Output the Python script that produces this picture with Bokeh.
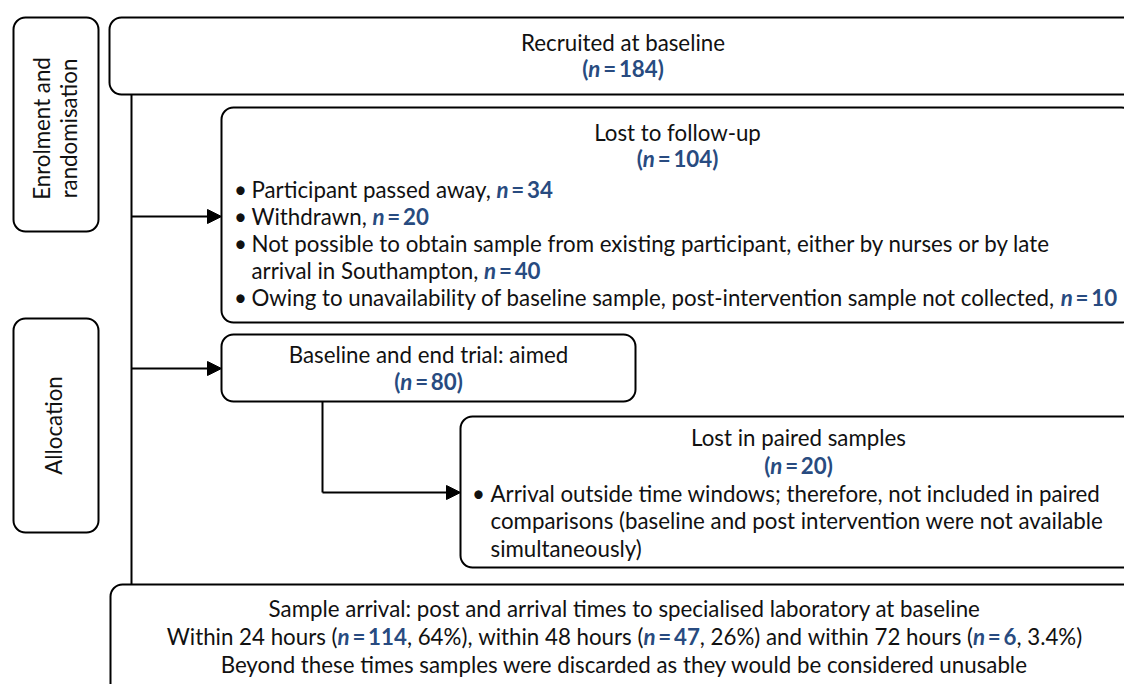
import json
import math
from bokeh.plotting import figure
from bokeh.models import ColumnDataSource, Range1d, Arrow, NormalHead, CustomJSTransform
from bokeh.transform import transform
from bokeh.embed import file_html
from bokeh.resources import INLINE
from bokeh.core.properties import value

# ---------------- data (texts and counts) ----------------
enrol_label = ["Enrolment and", "randomisation"]
alloc_label = "Allocation"

recruited_title = "Recruited at baseline"
recruited_n = 184

lost_title = "Lost to follow-up"
lost_n = 104
lost_reasons = [
    ["Participant passed away, "],
    ["Withdrawn, "],
    ["Not possible to obtain sample from existing participant, either by nurses or by late",
     "arrival in Southampton, "],
    ["Owing to unavailability of baseline sample, post-intervention sample not collected, "],
]
lost_reason_n = [34, 20, 40, 10]

aimed_title = "Baseline and end trial: aimed"
aimed_n = 80

paired_title = "Lost in paired samples"
paired_n = 20
paired_reason = [
    "Arrival outside time windows; therefore, not included in paired",
    "comparisons (baseline and post intervention were not available",
    "simultaneously)",
]

arrival_title = "Sample arrival: post and arrival times to specialised laboratory at baseline"
arrival_windows = ["Within 24 hours", "within 48 hours", "within 72 hours"]
arrival_n = [114, 47, 6]
arrival_pct = ["64%", "26%", "3.4%"]
arrival_joiners = [", ", " and ", ""]
arrival_note = "Beyond these times samples were discarded as they would be considered unusable"

# ---------------- styling / layout ----------------
W, H = 1124, 684
FONT = "Lato"
FS = 22.3
BLUE = "#284b80"
INK = "#111111"
LW = 2
NBSP = "\u00a0"
THIN = "\u2009"
DY = -7.5   # baseline correction for the text glyph

p = figure(width=W, height=H, x_range=Range1d(0, W), y_range=Range1d(H, 0),
           output_backend="svg", toolbar_location=None, min_border=0,
           x_axis_location=None, y_axis_location=None)
p.grid.visible = False
p.outline_line_color = None
p.background_fill_color = "white"
p.border_fill_color = "white"

# boxes: (left, right, top, bottom)
boxes = dict(
    enrol=(13, 98, 17, 231),
    alloc=(13, 98, 318, 532),
    recruited=(109, 1136, 17, 94),
    lost=(221, 1133, 107, 322),
    aimed=(221, 635, 334, 401),
    paired=(460, 1136, 416, 567),
    arrival=(110, 1138, 584, 720),
)
bsrc = ColumnDataSource(dict(
    left=[b[0] for b in boxes.values()], right=[b[1] for b in boxes.values()],
    top=[b[2] for b in boxes.values()], bottom=[b[3] for b in boxes.values()]))
p.quad(left="left", right="right", top="top", bottom="bottom", source=bsrc,
       fill_color="white", line_color="black", line_width=LW, border_radius=12)

# connectors
p.segment(x0=[131, 322], y0=[94, 401], x1=[131, 322], y1=[584, 492],
          line_color="black", line_width=LW)
for (xs, ys, xe, ye) in [(131, 216, 221, 216), (131, 368, 221, 368), (322, 492, 460, 492)]:
    p.add_layout(Arrow(end=NormalHead(size=14, fill_color="black", line_color="black", line_width=1),
                       x_start=xs, y_start=ys, x_end=xe, y_end=ye,
                       line_color="black", line_width=LW))

# ---------------- rich text runs ----------------
styles = {"r": ("normal", INK), "b": ("bold", BLUE), "bi": ("bold italic", BLUE)}
srcs = {k: dict(x=[], y=[], text=[]) for k in styles}
lines = []


def keep_spaces(t):
    # SVG drops leading/trailing blanks; non-breaking spaces keep the measured gaps
    lead = len(t) - len(t.lstrip(" "))
    trail = len(t) - len(t.rstrip(" "))
    core = t.strip(" ")
    return NBSP * lead + core + NBSP * trail


def approx_w(t, st):
    return len(t) * FS * (0.49 if st == "r" else 0.54)


def add_line(runs, x, y, align):
    runs = [(st, keep_spaces(t)) for st, t in runs]
    y = y + DY
    tot = sum(approx_w(t, st) for st, t in runs)
    cx = x - tot / 2 if align == "center" else x
    rec = []
    for st, t in runs:
        d = srcs[st]
        rec.append([st, t, len(d["text"])])
        d["x"].append(cx)
        d["y"].append(y)
        d["text"].append(t)
        cx += approx_w(t, st)
    lines.append(dict(x=x, align=align, runs=rec))


def n_runs(n, paren=False):
    eq = f"{THIN}={THIN}{n}"
    if paren:
        return [("b", "("), ("bi", "n"), ("b", eq + ")")]
    return [("bi", "n"), ("b", eq)]


bullets = dict(x=[], y=[], text=[])

# recruited
add_line([("r", recruited_title)], 622.5, 49, "center")
add_line(n_runs(recruited_n, True), 622.5, 75.5, "center")

# lost to follow-up
add_line([("r", lost_title)], 677, 139, "center")
add_line(n_runs(lost_n, True), 677, 165, "center")
ys = [196.5, 223.5, 250.5, 277.5, 304.5]
k = 0
for reason, n in zip(lost_reasons, lost_reason_n):
    bullets["x"].append(240)
    bullets["y"].append(ys[k] + DY)
    bullets["text"].append("•")
    for j, seg in enumerate(reason):
        runs = [("r", seg)]
        if j == len(reason) - 1:
            runs += n_runs(n)
        add_line(runs, 251, ys[k], "left")
        k += 1

# aimed
add_line([("r", aimed_title)], 428, 361, "center")
add_line(n_runs(aimed_n, True), 428, 388, "center")

# lost in paired
add_line([("r", paired_title)], 798, 444, "center")
add_line(n_runs(paired_n, True), 798, 472, "center")
pys = [500, 527.5, 555]
bullets["x"].append(478)
bullets["y"].append(pys[0] + DY)
bullets["text"].append("•")
for seg, yy in zip(paired_reason, pys):
    add_line([("r", seg)], 490, yy, "left")

# sample arrival
add_line([("r", arrival_title)], 624, 615, "center")
runs = []
for i, (wname, n, pct, jn) in enumerate(zip(arrival_windows, arrival_n, arrival_pct, arrival_joiners)):
    runs.append(("r", f"{wname} ("))
    runs += n_runs(n)
    runs.append(("r", f", {pct}){jn}"))
add_line(runs, 624, 643.5, "center")
add_line([("r", arrival_note)], 624, 671.5, "center")

# x positions measured in the browser so mixed-style runs join seamlessly
JS = """
const lines = %s;
const fonts = {r: 'normal %spx %s', b: 'bold %spx %s', bi: 'italic bold %spx %s'};
const ctx = document.createElement('canvas').getContext('2d');
const out = Array.from(xs);
for (const ln of lines) {
  const ws = ln.runs.map((r) => { ctx.font = fonts[r[0]]; return ctx.measureText(r[1]).width; });
  const tot = ws.reduce((a, c) => a + c, 0);
  let x = ln.align === 'center' ? ln.x - tot / 2 : ln.x;
  for (let j = 0; j < ln.runs.length; j++) {
    const r = ln.runs[j];
    if (r[0] === KEY) out[r[2]] = x;
    x += ws[j];
  }
}
return out;
""" % (json.dumps(lines), FS, FONT, FS, FONT, FS, FONT)

for st, (fstyle, col) in styles.items():
    src = ColumnDataSource(srcs[st])
    tr = CustomJSTransform(v_func=JS.replace("KEY", json.dumps(st)))
    p.text(x=transform("x", tr), y="y", text="text", source=src, text_font=value(FONT),
           text_font_size=f"{FS}px", text_font_style=fstyle, text_color=col,
           text_align="left", text_baseline="alphabetic")

p.text(x="x", y="y", text="text", source=ColumnDataSource(bullets), text_font=value(FONT),
       text_font_size=f"{FS}px", text_color=INK, text_align="center", text_baseline="alphabetic")

# rotated stage labels
p.text(x=[41, 67.5, 52.5], y=[128, 128, 425], text=enrol_label + [alloc_label],
       angle=math.pi / 2, text_font=value(FONT), text_font_size=f"{FS}px", text_color=INK,
       text_align="center", text_baseline="alphabetic")

open("out.html", "w").write(file_html(p, INLINE))
